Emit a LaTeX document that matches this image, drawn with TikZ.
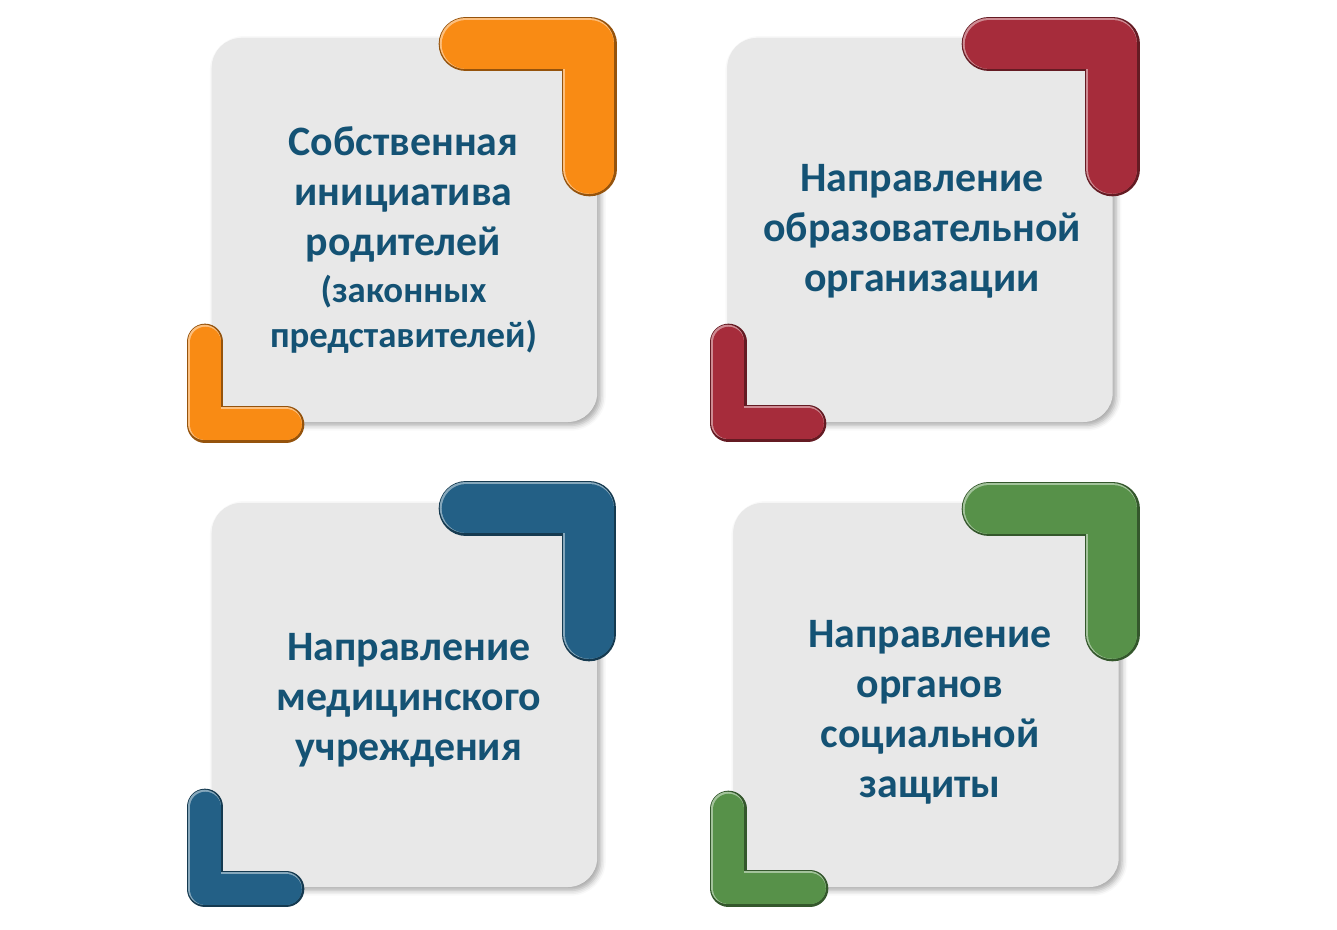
\documentclass[tikz,border=0pt]{standalone}
\usepackage{fontspec}
\setmainfont{Carlito}
\usetikzlibrary{calc,shadows.blur}

\definecolor{cardgray}{RGB}{232,232,232}
\definecolor{textblue}{RGB}{20,82,116}
\definecolor{orangeL}{RGB}{249,139,20}
\definecolor{redL}{RGB}{166,44,59}
\definecolor{blueL}{RGB}{35,96,134}
\definecolor{greenL}{RGB}{87,145,73}

\tikzset{
	card/.style={
			fill=cardgray, rounded corners=22pt, inner sep=0pt,
			minimum width=289pt, minimum height=288pt,
			blur shadow={shadow xshift=2.5pt, shadow yshift=-2.5pt,
					shadow blur radius=4pt, shadow opacity=35}
		},
	cardtext/.style={text=textblue, align=center,
			font=\bfseries\fontsize{31.4}{37.5}\selectfont}
}
% corner bracket: dark rim, light upper-left edge, then the colour
\newcommand{\cornerL}[3]{%
	\draw[#1!60!black, line width=#2pt+2pt, line cap=round, line join=round] #3;
	\draw[#1!55!white, line width=#2pt-0.6pt, line cap=round, line join=round,
		xshift=-0.5pt, yshift=0.5pt] #3;
	\draw[#1, line width=#2pt-2.2pt, line cap=round, line join=round,
		xshift=0.2pt, yshift=-0.2pt] #3;
}
\newcommand{\smallline}{\fontsize{27.6}{33}\selectfont}

\begin{document}
\begin{tikzpicture}[x=0.75pt, y=-0.75pt]
    \useasboundingbox (0,0) rectangle (1337,930);

    \node[card] (card1) at (404.5,230) {};
    \node[card] (card2) at (920,230) {};
    \node[card] (card3) at (404.5,695) {};
    \node[card] (card4) at (926,695) {};

    % top row
    \cornerL{orangeL}{39}{(466,44) -- (589.5,44) -- (589.5,169)}
    \cornerL{orangeL}{25.5}{(205,342) -- (205,424.5) -- (286,424.5)}
    \cornerL{redL}{39}{(989,44) -- (1112.5,44) -- (1112.5,169)}
    \cornerL{redL}{25.5}{(728.5,342) -- (728.5,423.5) -- (808,423.5)}

    % bottom row
    \cornerL{blueL}{39}{(466,508.5) -- (589,508.5) -- (589,634)}
    \cornerL{blueL}{25.5}{(205,807) -- (205,889) -- (286,889)}
    \cornerL{greenL}{39}{(989,509) -- (1112.5,509) -- (1112.5,634)}
    \cornerL{greenL}{25.5}{(728.5,809) -- (728.5,888.5) -- (810,888.5)}

    \node[cardtext] (txt1) at (403.5,240) {Собственная\\ инициатива\\ родителей\\[-2pt]
        \smallline (законных\\[-4pt] \smallline представителей)};
    \node[cardtext] (txt2) at (922,231) {Направление\\ образовательной\\ организации};
    \node[cardtext] (txt3) at (409,700) {Направление\\ медицинского\\ учреждения};
    \node[cardtext] (txt4) at (930,712.5) {Направление\\ органов\\ социальной\\ защиты};
\end{tikzpicture}
\end{document}
